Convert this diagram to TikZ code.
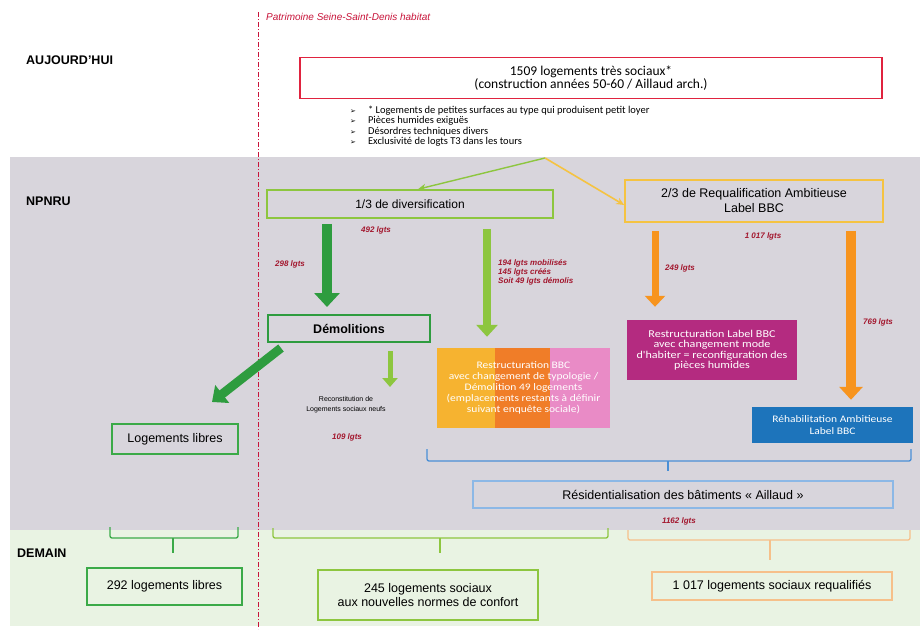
\documentclass[tikz,border=0pt]{standalone}
\usepackage{fontspec}
\setmainfont{Liberation Sans}
\newfontfamily\calib{Carlito}
\newfontfamily\calibw[FakeStretch=1.15]{Carlito}
\newfontfamily\djv{DejaVu Sans}
\usetikzlibrary{arrows.meta,calc}
\newcommand\setfs[2]{\fontsize{#1}{#2}\selectfont}
\definecolor{bandgray}{HTML}{D8D5DC}
\definecolor{bandgreen}{HTML}{E9F3E3}
\definecolor{redline}{HTML}{C8143A}
\definecolor{boxred}{HTML}{E0233F}
\definecolor{dkgreen}{HTML}{2E9C3F}
\definecolor{mdgreen}{HTML}{3BAA48}
\definecolor{ltgreen}{HTML}{8DC63F}
\definecolor{gold}{HTML}{F5C342}
\definecolor{orarrow}{HTML}{F7941E}
\definecolor{lorange}{HTML}{F6C08A}
\definecolor{magbox}{HTML}{B42B80}
\definecolor{bluebox}{HTML}{1D74BB}
\definecolor{bluebr}{HTML}{4A8FD6}
\definecolor{lblue}{HTML}{8CB8E6}
\definecolor{cyel}{HTML}{F6B330}
\definecolor{cora}{HTML}{F07D28}
\definecolor{cpink}{HTML}{E98BC6}
\definecolor{lblred}{HTML}{A3172E}
\begin{document}
\begin{tikzpicture}[x=1pt,y=-1pt,
  box/.style={draw, line width=1.6pt, align=center, inner sep=2pt},
  lbl/.style={font=\bfseries\itshape\setfs{8}{9}, text=lblred, align=left, inner sep=0pt},
  ttl/.style={font=\bfseries\setfs{12.5}{14}, anchor=west, inner sep=0pt},
  colbox/.style={align=center, inner sep=2pt, text=white},
  brk/.style={line width=1.3pt, rounded corners=2pt}
]
\useasboundingbox (0,0) rectangle (920,629);
\fill[white] (0,0) rectangle (920,629);
\fill[bandgray] (10,157) rectangle (920,530);
\fill[bandgreen] (10,530) rectangle (920,626);
\draw[redline, line width=1pt, dash pattern=on 5pt off 2pt on 1pt off 2pt] (258,12) -- (258,629);

\node[anchor=west, inner sep=0pt, font=\itshape\setfs{10}{12}, text=redline] (patr) at (266,17) {Patrimoine Seine-Saint-Denis habitat};
\node[ttl] (tauj) at (26,60) {AUJOURD'HUI};
\node[ttl] (tnpn) at (26,201) {NPNRU};
\node[ttl] (tdem) at (17,553) {DEMAIN};

% top box
\node[box, draw=boxred, line width=1.8pt, minimum width=582pt, minimum height=41pt, font=\calib\setfs{13.5}{13}] (top) at (591,78) {1509 logements très sociaux*\\(construction années 50-60 / Aillaud arch.)};
\node[anchor=north west, inner sep=0pt, font=\calib\setfs{10.5}{10}] (bul) at (350,106) {\begin{tabular}{@{}l@{\hspace{12pt}}l@{}}
{\djv\setfs{7}{10}➢} & * Logements de petites surfaces au type qui produisent petit loyer\\
{\djv\setfs{7}{10}➢} & Pièces humides exiguës\\
{\djv\setfs{7}{10}➢} & Désordres techniques divers\\
{\djv\setfs{7}{10}➢} & Exclusivité de logts T3 dans les tours
\end{tabular}};
\coordinate (apex) at (545,158);

% NPNRU boxes
\node[box, draw=ltgreen, minimum width=286pt, minimum height=28pt, font=\setfs{12}{14}] (div) at (410,204) {1/3 de diversification};
\node[box, draw=gold, minimum width=258pt, minimum height=42pt, font=\setfs{12.5}{15}] (req) at (754,201) {2/3 de Requalification Ambitieuse\\Label BBC};
\node[box, draw=dkgreen, line width=2pt, minimum width=162pt, minimum height=27pt, font=\bfseries\setfs{12.5}{14}] (demol) at (349,328.5) {Démolitions};
\node[colbox, fill=cyel, minimum width=173pt, minimum height=80pt, font=\calibw\setfs{10}{11},
  path picture={
   \fill[cora] ($(path picture bounding box.south west)!0.335!(path picture bounding box.south east)$) rectangle ($(path picture bounding box.north west)!0.653!(path picture bounding box.north east)$);
   \fill[cpink] ($(path picture bounding box.south west)!0.653!(path picture bounding box.south east)$) rectangle (path picture bounding box.north east);
  }] (multi) at (523.5,388) {Restructuration BBC\\avec changement de typologie /\\Démolition 49 logements\\(emplacements restants à définir\\suivant enquête sociale)};
\node[colbox, fill=magbox, minimum width=170pt, minimum height=60pt, font=\calibw\setfs{10.5}{10.5}] (mag) at (712,350) {Restructuration Label BBC\\avec changement mode\\d'habiter = reconfiguration des\\pièces humides};
\node[colbox, fill=bluebox, minimum width=161pt, minimum height=36pt, font=\calibw\setfs{10}{12}] (blu) at (832.5,425) {Réhabilitation Ambitieuse\\Label BBC};
\node[box, draw=mdgreen, minimum width=126pt, minimum height=30pt, font=\setfs{12.5}{14}] (libres) at (175,439) {Logements libres};
\node[align=center, inner sep=0pt, font=\setfs{7}{10}] (recon) at (346,405) {Reconstitution de\\Logements sociaux neufs};
\node[box, draw=lblue, line width=1.2pt, minimum width=420pt, minimum height=27pt, font=\setfs{12.5}{14}] (resid) at (683,494.5) {Résidentialisation des bâtiments « Aillaud »};

% labels
\node[lbl] (l492) at (376,230) {492 lgts};
\node[lbl] (l298) at (290,264) {298 lgts};
\node[lbl, anchor=north west] (l194) at (498,259) {194 lgts mobilisés\\145 lgts créés\\Soit 49 lgts démolis};
\node[lbl] (l1017) at (763,236) {1 017 lgts};
\node[lbl] (l249) at (680,268) {249 lgts};
\node[lbl] (l769) at (878,322) {769 lgts};
\node[lbl] (l109) at (347,437) {109 lgts};
\node[lbl] (l1162) at (679,521) {1162 lgts};

% DEMAIN boxes
\node[box, draw=mdgreen, minimum width=155pt, minimum height=37pt, font=\setfs{12.5}{14}] (b292) at (164.5,586.5) {292 logements libres};
\node[box, draw=ltgreen, minimum width=220pt, minimum height=50pt, font=\setfs{12.5}{14}] (b245) at (428,595) {245 logements sociaux\\aux nouvelles normes de confort};
\node[box, draw=lorange, minimum width=240pt, minimum height=28pt, font=\setfs{12.5}{14}] (b1017) at (772,586) {1 017 logements sociaux requalifiés};

% connectors
\coordinate (c327) at (327,0);
\coordinate (c487) at (487,0);
\coordinate (c390) at (390,0);
\coordinate (c655) at (655,0);
\coordinate (c851) at (851,0);
\coordinate (recEnd) at (390,387);
\coordinate (dEnd) at (212,402);

\draw[ltgreen, line width=1.4pt, -{Stealth[length=8pt,width=7pt]}] (apex) -- ([xshift=8pt]div.north);
\draw[gold, line width=1.6pt, -{Stealth[length=8pt,width=7pt]}] (apex) -- ([yshift=-4pt]req.west);

\draw[dkgreen, line width=10pt, -{Triangle[width=25pt,length=14pt]}, shorten <=5pt, shorten >=7pt] (div.south -| c327) -- (demol.north -| c327);
\draw[ltgreen, line width=8pt, -{Triangle[width=21pt,length=12pt]}, shorten <=10pt, shorten >=11pt] (div.south -| c487) -- (multi.north -| c487);
\draw[ltgreen, line width=5pt, -{Triangle[width=15pt,length=9pt]}, shorten <=8pt] (demol.south -| c390) -- (recEnd);
\draw[dkgreen, line width=9pt, -{Triangle[width=22pt,length=13pt]}] ($(demol.south west)+(14,5)$) -- (dEnd);
\draw[orarrow, line width=7pt, -{Triangle[width=20pt,length=11pt]}, shorten <=8pt, shorten >=13pt] (req.south -| c655) -- (mag.north -| c655);
\draw[orarrow, line width=10pt, -{Triangle[width=23pt,length=13pt]}, shorten <=8pt, shorten >=7pt] (req.south -| c851) -- (blu.north -| c851);

% brackets
\draw[bluebr, brk] (427,449) -- (427,461) -- (911,461) -- (911,449);
\draw[bluebr, line width=1.3pt] (668,461) -- (668,471);
\draw[mdgreen, brk] (110,527) -- (110,538) -- (238,538) -- (238,527);
\draw[mdgreen, line width=1.3pt] (173,538) -- (173,553);
\draw[ltgreen, brk] (273,528) -- (273,538) -- (608,538) -- (608,528);
\draw[ltgreen, line width=1.3pt] (440,538) -- (440,553);
\draw[lorange, brk] (628,530) -- (628,540) -- (910,540) -- (910,530);
\draw[lorange, line width=1.3pt] (770,540) -- (770,560);
\end{tikzpicture}
\end{document}
